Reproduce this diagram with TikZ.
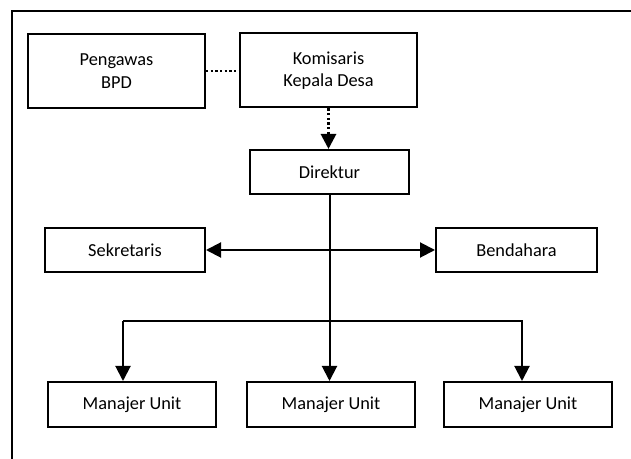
\documentclass[tikz,border=0pt]{standalone}
\usepackage{fontspec}
\setmainfont{Carlito}
\usetikzlibrary{arrows.meta}
\begin{document}
\begin{tikzpicture}[x=0.6pt,y=-0.6pt,
  box/.style={draw,line width=1.2pt,align=center,inner sep=0pt,font=\fontsize{11}{13.4}\selectfont},
  tip/.tip={Triangle[length=9pt,width=9pt]},
  link/.style={line width=1.2pt},
  arr/.style={line width=1.2pt,-tip},
  dots/.style={line width=1.7pt,dash pattern=on 1.4pt off 1.4pt}]
\useasboundingbox (0,0) rectangle (631,459);
\draw[line width=1.2pt] (12,459) -- (12,11) -- (631,11);
\node[box,minimum width=106.2pt,minimum height=44.4pt] (p) at (116.5,71) {Pengawas\\BPD};
\node[box,minimum width=106.2pt,minimum height=44.4pt] (k) at (328.5,70.5) {Komisaris\\Kepala Desa};
\node[box,minimum width=95.4pt,minimum height=26.4pt] (d) at (329.5,172) {Direktur};
\node[box,minimum width=96pt,minimum height=26.4pt] (s) at (125,250) {Sekretaris};
\node[box,minimum width=96.6pt,minimum height=26.4pt] (b) at (516.5,250) {Bendahara};
\node[box,minimum width=100.8pt,minimum height=27pt] (m1) at (132,404.5) {Manajer Unit};
\node[box,minimum width=100.8pt,minimum height=27pt] (m2) at (331,404.5) {Manajer Unit};
\node[box,minimum width=100.8pt,minimum height=27pt] (m3) at (528,404.5) {Manajer Unit};
\coordinate (bl) at (123,321);
\coordinate (br) at (523,321);
\draw[dots] (p.east) -- (p.east -| k.west);
\draw[dots,-tip] (k.south) -- (k.south |- d.north);
\draw[arr] (d.south) -- (d.south |- m2.north);
\draw[link,tip-tip] (s.east) -- (b.west);
\draw[link] (bl) -- (br);
\draw[arr] (bl) -- (bl |- m1.north);
\draw[arr] ([xshift=-0.6pt]br) -- ([xshift=-0.6pt]br |- m3.north);
\end{tikzpicture}
\end{document}
